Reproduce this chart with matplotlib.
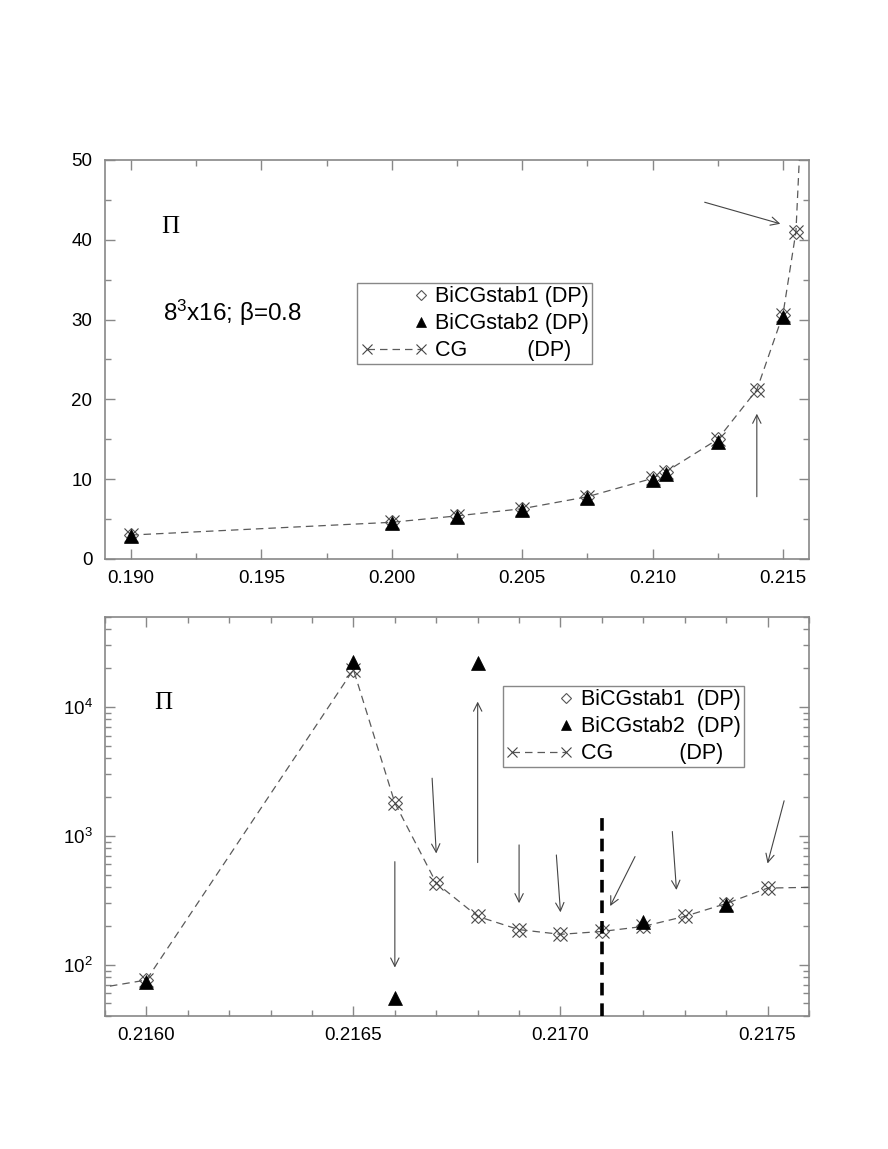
import matplotlib
matplotlib.use('Agg')
import matplotlib.pyplot as plt
import numpy as np
from matplotlib.legend_handler import HandlerLine2D
from matplotlib.ticker import (MultipleLocator, FormatStrFormatter, LogLocator,
                               LogFormatterSciNotation, NullFormatter)

plt.rcParams['font.family'] = ['Liberation Sans', 'DejaVu Sans']
plt.rcParams['mathtext.fontset'] = 'custom'
plt.rcParams['mathtext.rm'] = 'Liberation Sans'
plt.rcParams['mathtext.it'] = 'Liberation Sans:italic'
plt.rcParams['mathtext.bf'] = 'Liberation Sans:bold'

# ---------------- data ----------------
cg_x = [0.190, 0.200, 0.2025, 0.205, 0.2075, 0.210, 0.2105, 0.2125, 0.214, 0.215, 0.2155,
        0.2160, 0.2165, 0.2166, 0.2167, 0.2168, 0.2169, 0.2170, 0.2171, 0.2172, 0.2173,
        0.2174, 0.2175, 0.2180]
cg_y = [3.0, 4.6, 5.4, 6.3, 7.8, 10.1, 10.9, 15.0, 21.2, 30.6, 41.0,
        76, 19500, 1800, 430, 237, 187, 172, 181, 198, 237,
        298, 393, 420]

bicg1_x = [0.190, 0.200, 0.2025, 0.205, 0.2075, 0.210, 0.2105, 0.2125, 0.214, 0.215, 0.2155,
           0.2160, 0.2165, 0.2166, 0.2167, 0.2168, 0.2169, 0.2170, 0.2171, 0.2172, 0.2173,
           0.2174, 0.2175]
bicg1_y = [3.0, 4.6, 5.4, 6.3, 7.8, 10.1, 10.9, 15.0, 21.2, 30.6, 41.0,
           76, 19500, 1800, 430, 237, 187, 172, 181, 198, 237,
           298, 393]

bicg2_x = [0.190, 0.200, 0.2025, 0.205, 0.2075, 0.210, 0.2105, 0.2125, 0.215,
           0.2160, 0.2165, 0.2166, 0.2168, 0.2172, 0.2174]
bicg2_y = [2.9, 4.5, 5.2, 6.1, 7.6, 9.9, 10.6, 14.7, 30.3,
           74, 22500, 55, 21900, 215, 292]

labels_top = ['BiCGstab1 (DP)', 'BiCGstab2 (DP)', 'CG          (DP)']
labels_bot = ['BiCGstab1  (DP)', 'BiCGstab2  (DP)', 'CG           (DP)']

# arrows: (x_start, y_start, x_end, y_end)
arrows_top = [(0.2120, 44.7, 0.2149, 42.0),
              (0.2140, 7.8, 0.2140, 18.2)]
arrows_bot = [(0.21660, 630, 0.21660, 95),
              (0.21669, 2800, 0.21670, 730),
              (0.21680, 620, 0.21680, 11000),
              (0.21690, 850, 0.21690, 300),
              (0.21699, 710, 0.21700, 255),
              (0.21718, 690, 0.21712, 285),
              (0.21727, 1080, 0.21728, 380),
              (0.21754, 1870, 0.21750, 610)]

kappa_c = 0.2171
kappa_c_top = 1430

# ---------------- styles ----------------
GREY = '#888888'
LINEC = '#5a5a5a'


class RightMarkerHandler(HandlerLine2D):
    """Single legend marker placed at the right end of the handle area."""
    def get_xdata(self, legend, xdescent, ydescent, width, height, fontsize):
        xm = -xdescent + width - self._marker_pad * fontsize
        return np.array([xm - 1.0, xm + 1.0]), np.array([xm])


fig = plt.figure(figsize=(8.88, 11.49), dpi=100)
ax1 = fig.add_axes([0.1182, 0.5135, 0.7928, 0.3473])
ax2 = fig.add_axes([0.1182, 0.1158, 0.7928, 0.3473])


def draw(ax):
    l_cg, = ax.plot(cg_x, cg_y, color=LINEC, lw=0.9, ls=(0, (6, 4)),
                    marker='x', ms=10, mew=0.8, mec='#444444', zorder=3)
    l_b1, = ax.plot(bicg1_x, bicg1_y, ls='none', marker='D', ms=7, mfc='none',
                    mec='#555555', mew=0.8, zorder=4)
    l_b2, = ax.plot(bicg2_x, bicg2_y, ls='none', marker='^', ms=10, mfc='black',
                    mec='black', mew=0.5, zorder=5)
    return l_b1, l_b2, l_cg


def style(ax):
    for s in ax.spines.values():
        s.set_color(GREY)
        s.set_linewidth(1.2)
    ax.tick_params(which='both', direction='in', top=True, right=True,
                   color=GREY, width=1, labelsize=13.5)
    ax.tick_params(which='major', length=7)
    ax.tick_params(which='minor', length=4)
    ax.tick_params(axis='x', pad=8)
    ax.tick_params(axis='y', pad=9)


def arrows(ax, lst):
    for x0, y0, x1, y1 in lst:
        ax.annotate('', xy=(x1, y1), xytext=(x0, y0),
                    arrowprops=dict(arrowstyle='->', lw=0.8, color='#444444',
                                    mutation_scale=15, shrinkA=0, shrinkB=0),
                    zorder=2)


def legend(ax, handles, labels, anchor):
    leg = ax.legend(handles, labels, loc='upper left', bbox_to_anchor=anchor,
                    borderaxespad=0, fontsize=15.5, frameon=True, fancybox=False,
                    framealpha=1, edgecolor=GREY, borderpad=0.15, labelspacing=0.28,
                    handlelength=3.1, handletextpad=0.37, markerscale=0.7,
                    handler_map={handles[0]: RightMarkerHandler(),
                                 handles[1]: RightMarkerHandler(),
                                 handles[2]: HandlerLine2D(numpoints=2)})
    leg.get_frame().set_linewidth(1.0)
    return leg


# ---------------- top panel ----------------
h = draw(ax1)
style(ax1)
ax1.set_xlim(0.189, 0.216)
ax1.set_ylim(0, 50)
ax1.xaxis.set_major_locator(MultipleLocator(0.005))
ax1.xaxis.set_minor_locator(MultipleLocator(0.0025))
ax1.xaxis.set_major_formatter(FormatStrFormatter('%.3f'))
ax1.yaxis.set_major_locator(MultipleLocator(10))
ax1.yaxis.set_minor_locator(MultipleLocator(5))
ax1.text(0.19152, 41.6, 'Π', family=['Liberation Serif', 'DejaVu Serif'],
         fontsize=18, ha='center', va='center')
ax1.text(0.19124, 30.8, r'8$^{3}$x16; β=0.8', fontsize=17.5, ha='left', va='center')
arrows(ax1, arrows_top)
legend(ax1, h, labels_top, (0.358, 0.6917))

# ---------------- bottom panel ----------------
h = draw(ax2)
style(ax2)
ax2.set_yscale('log')
ax2.set_xlim(0.2159, 0.2176)
ax2.set_ylim(40, 50000)
ax2.xaxis.set_major_locator(MultipleLocator(0.0005))
ax2.xaxis.set_minor_locator(MultipleLocator(0.0001))
ax2.xaxis.set_major_formatter(FormatStrFormatter('%.4f'))
ax2.yaxis.set_major_locator(LogLocator(base=10))
ax2.yaxis.set_minor_locator(LogLocator(base=10, subs=np.arange(2, 10)))
ax2.yaxis.set_major_formatter(LogFormatterSciNotation())
ax2.yaxis.set_minor_formatter(NullFormatter())
ax2.text(0.21604, 10700, 'Π', family=['Liberation Serif', 'DejaVu Serif'],
         fontsize=18, ha='center', va='center')
arrows(ax2, arrows_bot)
ax2.plot([kappa_c, kappa_c], [ax2.get_ylim()[0], kappa_c_top], color='black',
         lw=2.6, ls=(0, (3.5, 2.2)), zorder=6)
legend(ax2, h, labels_bot, (0.565, 0.827))

fig.savefig('out.png', dpi=100)
